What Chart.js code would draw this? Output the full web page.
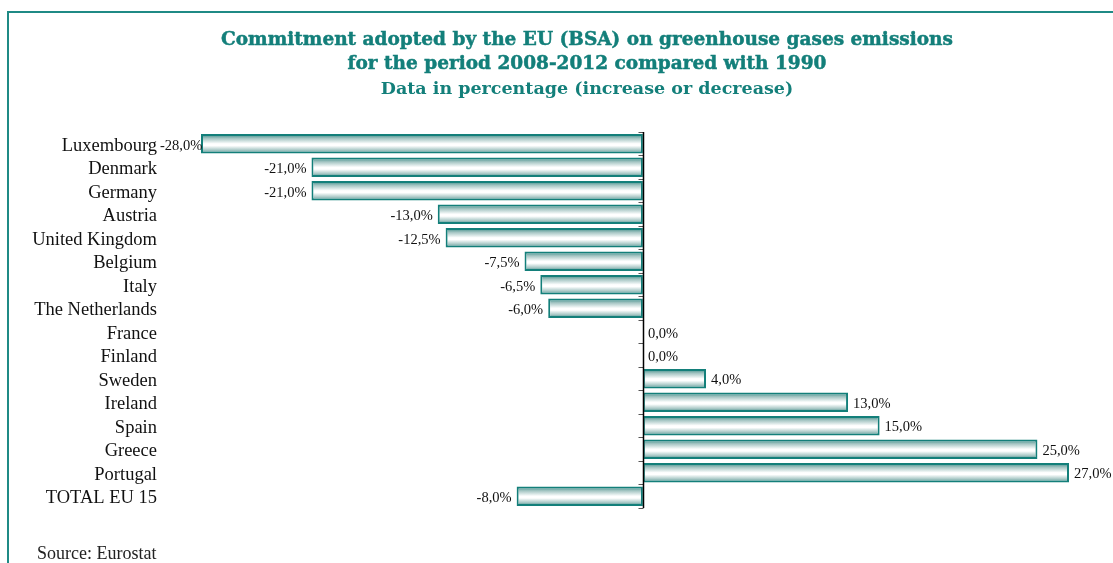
<!DOCTYPE html>
<html>
<head>
<meta charset="utf-8">
<title>EU greenhouse gas commitments 2008-2012</title>
<script src="https://cdn.jsdelivr.net/npm/chart.js@4.4.1/dist/chart.umd.min.js"></script>
<style>
  html, body { margin: 0; padding: 0; background: #fff; }
  .wrap { position: relative; width: 1113px; height: 563px; overflow: hidden; }
  .frame {
    position: absolute; left: 7px; top: 11px; width: 1120px; height: 600px;
    border-left: 2px solid #1f8a85; border-top: 2px solid #1f8a85;
  }
  canvas { position: absolute; left: 0; top: 0; }
  .heading {
    position: absolute; left: 0; width: 1174px; text-align: center;
    color: #137f7a; line-height: 24px; white-space: nowrap; font-weight: bold;
  }
  .heading.main { font-family: 'DejaVu Serif', serif; font-size: 18.5px; -webkit-text-stroke: 0.5px #137f7a; }
  .heading.sub { font-family: 'DejaVu Serif', serif; font-size: 17.5px; }
</style>
</head>
<body>
<div class="wrap">
  <div class="frame"></div>
  <canvas id="kyotoChart" width="1113" height="563"></canvas>
  <div class="heading main" id="title1" style="top:27px"></div>
  <div class="heading main" id="title2" style="top:51px"></div>
  <div class="heading sub" id="subtitle" style="top:76px"></div>
</div>
<script>
const countries = ["Luxembourg", "Denmark", "Germany", "Austria", "United Kingdom", "Belgium", "Italy",
  "The Netherlands", "France", "Finland", "Sweden", "Ireland", "Spain", "Greece", "Portugal", "TOTAL EU 15"];
const commitment = [-28, -21, -21, -13, -12.5, -7.5, -6.5, -6, 0, 0, 4, 13, 15, 25, 27, -8];
const titleLines = ["Commitment adopted by the EU (BSA) on greenhouse gases emissions",
  "for the period 2008-2012 compared with 1990"];
const subtitleText = "Data in percentage (increase or decrease)";
const sourceText = "Source: Eurostat";

const TEAL = "#137f7a";
const BAR_PCT = 0.83;
const SERIF = "'Liberation Serif', 'DejaVu Serif', serif";

document.getElementById("title1").textContent = titleLines[0];
document.getElementById("title2").textContent = titleLines[1];
document.getElementById("subtitle").textContent = subtitleText;

// formato europeo: -12,5%
const fmt = v => v.toFixed(1).replace(".", ",") + "%";

// gradiente verticale per ogni barra: bordo teal, centro bianco
function barFill(context) {
  const chart = context.chart;
  const y = chart.scales.y;
  if (!chart.chartArea || !y || context.dataIndex === undefined) return "#dfe9e8";
  const step = Math.abs(y.getPixelForValue(1) - y.getPixelForValue(0));
  const cy = y.getPixelForValue(context.dataIndex);
  const half = step * BAR_PCT / 2;
  const g = chart.ctx.createLinearGradient(0, cy - half, 0, cy + half);
  g.addColorStop(0, "#2f8580");
  g.addColorStop(0.22, "#a3c4c2");
  g.addColorStop(0.5, "#ffffff");
  g.addColorStop(0.6, "#ffffff");
  g.addColorStop(0.84, "#a3c4c2");
  g.addColorStop(1, "#2f8580");
  return g;
}

// linea dello zero con tacche tra le categorie
const zeroAxis = {
  id: "zeroAxis",
  afterDatasetsDraw(chart) {
    const { ctx, chartArea, scales: { x, y } } = chart;
    const x0 = Math.round(x.getPixelForValue(0)) + 0.5;
    const step = y.getPixelForValue(1) - y.getPixelForValue(0);
    ctx.save();
    ctx.strokeStyle = "#555";
    ctx.lineWidth = 1;
    for (let i = 0; i <= countries.length; i++) {
      const ty = Math.round(y.getPixelForValue(i) - step / 2) + 0.5;
      ctx.beginPath();
      ctx.moveTo(x0 - 5, ty);
      ctx.lineTo(x0, ty);
      ctx.stroke();
    }
    ctx.strokeStyle = "#000";
    ctx.lineWidth = 1.5;
    ctx.beginPath();
    ctx.moveTo(x0, chartArea.top);
    ctx.lineTo(x0, chartArea.bottom);
    ctx.stroke();
    ctx.restore();
  }
};

// etichette dei valori fuori dalla barra
const valueLabels = {
  id: "valueLabels",
  afterDraw(chart) {
    const { ctx, chartArea, scales: { x, y } } = chart;
    const labelRight = chartArea.left - y.options.ticks.padding;
    ctx.save();
    ctx.font = "14.5px " + SERIF;
    ctx.fillStyle = "#111";
    ctx.textBaseline = "middle";
    commitment.forEach((v, i) => {
      const txt = fmt(v);
      const end = x.getPixelForValue(v);
      const cy = y.getPixelForValue(i) + 2;
      if (v < 0) {
        const w = ctx.measureText(txt).width;
        let right = end - 5;
        if (right - w < labelRight + 3) right = labelRight + 3 + w;
        ctx.textAlign = "right";
        ctx.fillText(txt, right, cy);
      } else {
        ctx.textAlign = "left";
        ctx.fillText(txt, end + 5, cy);
      }
    });
    // fonte in basso a sinistra
    ctx.font = "18px " + SERIF;
    ctx.fillStyle = "#222";
    ctx.textAlign = "left";
    ctx.fillText(sourceText, 37, 554);
    ctx.restore();
  }
};

const canvas = document.getElementById("kyotoChart");
if (canvas) {
  new Chart(canvas.getContext("2d"), {
    type: "bar",
    data: {
      labels: countries,
      datasets: [{
        data: commitment,
        backgroundColor: barFill,
        borderColor: TEAL,
        borderWidth: 2,
        borderSkipped: false,
        barPercentage: BAR_PCT,
        categoryPercentage: 1
      }]
    },
    options: {
      indexAxis: "y",
      responsive: false,
      animation: false,
      layout: { padding: { left: 20, right: 44, top: 132, bottom: 54 } },
      plugins: {
        legend: { display: false },
        tooltip: { enabled: false },
        title: { display: false }
      },
      scales: {
        x: { display: false, min: -28, max: 27 },
        y: {
          grid: { display: false, drawTicks: false },
          border: { display: false },
          ticks: { color: "#111", padding: 44, autoSkip: false, labelOffset: 2, font: { family: SERIF, size: 18.5 } },
          afterFit(scale) { scale.width = 181; }
        }
      }
    },
    plugins: [zeroAxis, valueLabels]
  });
}
</script>
</body>
</html>
